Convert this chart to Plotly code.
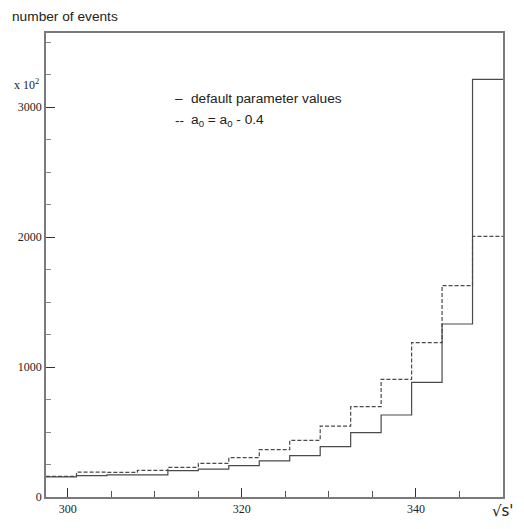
import plotly.graph_objects as go

# bin edges: 15 bins of width 3.5 from 297.5 to 350
bin_edges = [297.5, 301.0, 304.5, 308.0, 311.5, 315.0, 318.5, 322.0, 325.5,
             329.0, 332.5, 336.0, 339.5, 343.0, 346.5, 350.0]
default_values = [155, 165, 170, 170, 203, 215, 241, 278, 318, 387, 495, 631, 882, 1331, 3213]
shifted_values = [158, 192, 190, 205, 228, 259, 303, 364, 436, 546, 695, 905, 1187, 1627, 2005]

x_major = [300, 320, 340]
x_minor = [305, 310, 315, 325, 330, 335, 345, 350]
y_major = [0, 1000, 2000, 3000]

def steps(vals):
    return list(bin_edges), list(vals) + [vals[-1]]

fig = go.Figure()
xs, ys = steps(shifted_values)
fig.add_trace(go.Scatter(x=xs, y=ys, mode="lines", line_shape="hv",
                         line=dict(color="#4a4a4a", width=1.2, dash="4px,2px"),
                         showlegend=False, hoverinfo="skip"))
xs, ys = steps(default_values)
fig.add_trace(go.Scatter(x=xs, y=ys, mode="lines", line_shape="hv",
                         line=dict(color="#4a4a4a", width=1.2),
                         showlegend=False, hoverinfo="skip"))

# page body has an 8px margin on every side; keep the page inside the window
OFF = 8
W, H = 524 - 2 * OFF, 529 - 2 * OFF
L, T = 46 - OFF, 33 - OFF
R = (524 - OFF) - 503 - OFF + OFF  # plot right edge at window x=503
R = 8 + W - 503 + 0
R = (OFF + W) - 503
B = (OFF + H) - 497
axis_col = "#7a7a7a"
fig.update_layout(
    width=W, height=H,
    margin=dict(l=L, r=R, t=T, b=B, autoexpand=False),
    paper_bgcolor="white", plot_bgcolor="white",
    xaxis=dict(range=[297.5, 350], tickvals=x_major, ticktext=[str(v) for v in x_major],
               ticks="inside", ticklen=9, tickcolor="#333", tickwidth=1,
               showline=True, linecolor=axis_col, linewidth=1.5, mirror=True,
               showgrid=False, zeroline=False, automargin=False,
               tickfont=dict(family="Liberation Serif", size=12, color="#222"),
               minor=dict(tickvals=x_minor, ticks="inside",
                          ticklen=6, tickcolor="#555", showgrid=False)),
    yaxis=dict(range=[0, 3570], tickvals=y_major, ticktext=[str(v) for v in y_major],
               ticks="inside", ticklen=9, tickcolor="#333", tickwidth=1,
               showline=True, linecolor=axis_col, linewidth=1.5, mirror=True,
               showgrid=False, zeroline=False, automargin=False,
               tickfont=dict(family="Liberation Serif", size=12, color="#222"),
               minor=dict(dtick=250, tick0=0, ticks="inside", ticklen=5,
                          tickcolor="#888", showgrid=False)),
)

# positions in window pixels
anns = [
    dict(x=11, y=17, text="number of events", xanchor="left",
         font=dict(family="Liberation Sans", size=13.7, color="#222")),
    dict(x=13, y=84, text="x 10<sup>2</sup>", xanchor="left",
         font=dict(family="Liberation Serif", size=12, color="#222")),
    dict(x=174, y=98, text="–", xanchor="left",
         font=dict(family="Liberation Sans", size=13.7, color="#222")),
    dict(x=190, y=98, text="default parameter values", xanchor="left",
         font=dict(family="Liberation Sans", size=13.7, color="#222")),
    dict(x=174, y=120, text="--", xanchor="left",
         font=dict(family="Liberation Sans", size=13.7, color="#222")),
    dict(x=190, y=120, text="a<sub>0</sub> = a<sub>0</sub> - 0.4", xanchor="left",
         font=dict(family="Liberation Sans", size=13.7, color="#222")),
    dict(x=515, y=511, text="√s'", xanchor="right",
         font=dict(family="DejaVu Sans", size=15, color="#222")),
]
pw, ph = W - L - R, H - T - B
for a in anns:
    px = a["x"] - OFF
    py = a["y"] - OFF
    fig.add_annotation(xref="paper", yref="paper",
                       x=(px - L) / pw, y=(H - B - py) / ph,
                       text=a["text"], showarrow=False, borderpad=0,
                       xanchor=a["xanchor"], yanchor="middle", font=a["font"])

fig.write_html("out.html")
